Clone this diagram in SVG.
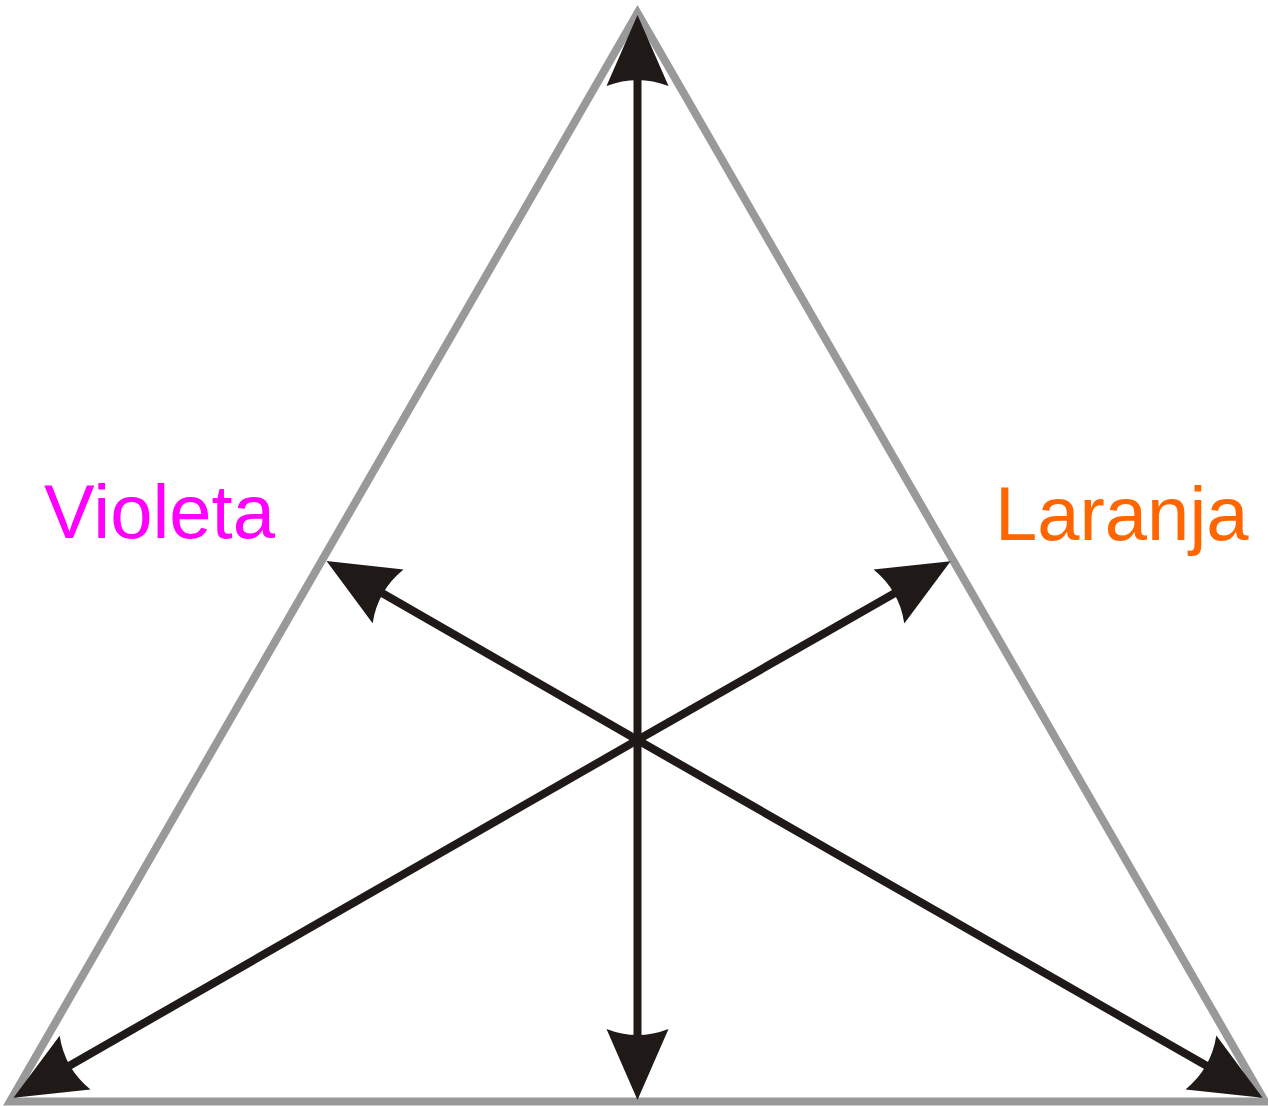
<svg xmlns="http://www.w3.org/2000/svg" width="1268" height="1106" viewBox="0 0 1268 1106">
<style>
.tri{fill:none;stroke:#999999;stroke-width:8;stroke-linejoin:miter;stroke-miterlimit:10}
.arr{stroke:#1f1a17;stroke-width:8;fill:none;marker-end:url(#ah)}
.lbl{font-family:"Liberation Sans",Arial,sans-serif;font-size:76px}
</style>
<defs>
<marker id="ah" markerUnits="userSpaceOnUse" viewBox="-20 -40 100 80" markerWidth="100" markerHeight="80" refX="0" refY="0" orient="auto" overflow="visible">
<path d="M64,0 L-7,-31 Q5,0 -7,31 Z" fill="#1f1a17"/>
</marker>
</defs>
<rect width="1268" height="1106" fill="#ffffff"/>
<g id="triangle">
<polygon class="tri" points="637.5,13 1265,1101.5 10,1101.5"/>
</g>
<g id="connectors">
<line class="arr" x1="637.5" y1="740" x2="637.5" y2="79"/>
<line class="arr" x1="637.5" y1="740" x2="637.5" y2="1036"/>
<line class="arr" x1="637.5" y1="740" x2="382" y2="593"/>
<line class="arr" x1="637.5" y1="740" x2="895" y2="593"/>
<line class="arr" x1="637.5" y1="740" x2="69" y2="1066"/>
<line class="arr" x1="637.5" y1="740" x2="1207" y2="1066"/>
</g>
<g id="violeta">
<text class="lbl" x="44" y="538" fill="#ff00ff">Violeta</text>
</g>
<g id="laranja">
<text class="lbl" x="995" y="540" fill="#ff6600">Laranja</text>
</g>
</svg>
